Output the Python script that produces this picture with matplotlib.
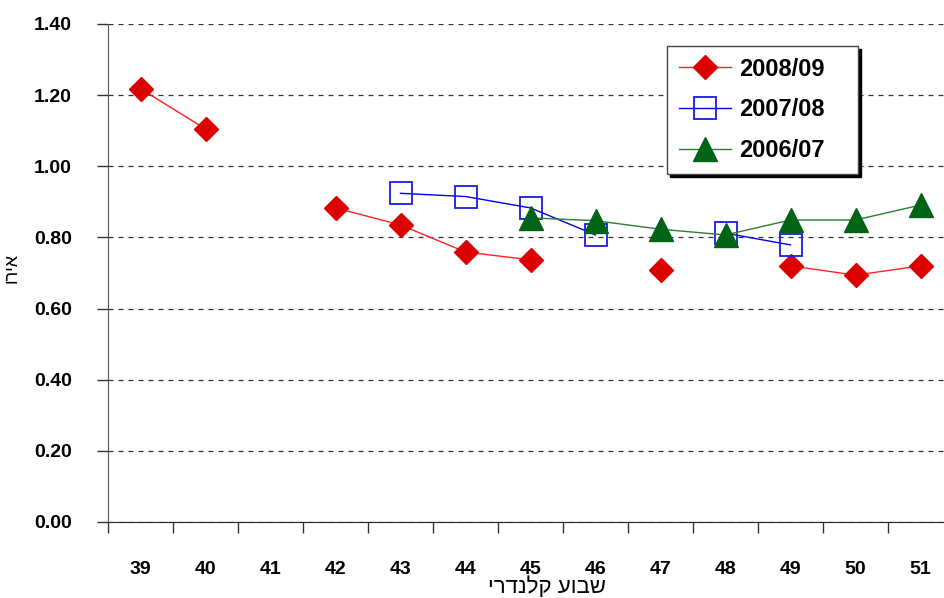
import numpy as np
import matplotlib
matplotlib.use("Agg")
import matplotlib.pyplot as plt

plt.rcParams["font.family"] = ["Liberation Sans", "DejaVu Sans"]

weeks = ["39", "40", "41", "42", "43", "44", "45", "46", "47", "48", "49", "50", "51"]
nan = np.nan
season_0809 = [1.218, 1.105, nan, 0.883, 0.835, 0.759, 0.737, nan, 0.708, nan, 0.72, 0.694, 0.72]
season_0708 = [nan, nan, nan, nan, 0.924, 0.915, 0.883, 0.807, nan, 0.812, 0.779, nan, nan]
season_0607 = [nan, nan, nan, nan, nan, nan, 0.855, 0.847, 0.823, 0.807, 0.849, 0.849, 0.891]
y_ticks = [0.0, 0.2, 0.4, 0.6, 0.8, 1.0, 1.2, 1.4]

x_title = "שבוע קלנדרי"
y_title = "אירו"

fig = plt.figure(figsize=(9.44, 5.98), dpi=100)
ax = fig.add_axes([108 / 944, 1 - 522 / 598, 845 / 944, 498 / 598])

x = np.arange(len(weeks))

ax.plot(x, season_0809, color="#ff2020", lw=1, marker="D", ms=12.5,
        mfc="#dd0000", mec="#dd0000", label="2008/09", zorder=3)
ax.plot(x, season_0708, color="#0000ee", lw=1, marker="s", ms=16,
        mfc="none", mec="#1a1ae6", mew=1.3, label="2007/08", zorder=3)
ax.plot(x, season_0607, color="#2e7d32", lw=1, marker="^", ms=17,
        mfc="#006414", mec="#006414", label="2006/07", zorder=3)

ax.set_xlim(-0.5, len(weeks) - 0.5)
ax.set_ylim(0, 1.4)

ax.set_xticks(np.arange(len(weeks) + 1) - 0.5)
ax.set_xticklabels([])
ax.set_xticks(x, minor=True)
ax.set_xticklabels(weeks, minor=True, fontsize=14, fontweight="bold")
ax.tick_params(axis="x", which="major", length=8, width=1, color="#333333", direction="out")
ax.tick_params(axis="x", which="minor", length=0, pad=28)

ax.set_yticks(y_ticks)
ax.set_yticklabels([f"{v:.2f}" for v in y_ticks], fontsize=14, fontweight="bold")
ax.tick_params(axis="y", length=8, width=1, color="#333333", pad=18)

ax.grid(axis="y", color="#333333", linestyle=(0, (4, 4)), linewidth=0.9)
ax.set_axisbelow(True)

for side in ["top", "right"]:
    ax.spines[side].set_visible(False)
ax.spines["left"].set_color("#555555")
ax.spines["bottom"].set_color("#222222")

ax.set_xlabel(x_title[::-1], fontsize=16)
ax.xaxis.set_label_coords(0.52, -0.109)
ax.set_ylabel(y_title[::-1], fontsize=13)
ax.yaxis.set_label_coords(-0.104, 0.51)

leg = ax.legend(loc="upper left", bbox_to_anchor=(0.6615, 0.5, 0.226, 0.456),
                mode="expand", fontsize=17, frameon=True, fancybox=False,
                shadow={"color": "black", "alpha": 1.0},
                handlelength=2.2, labelspacing=0.75, borderpad=0.5,
                handletextpad=0.35, borderaxespad=0)
leg.get_frame().set_edgecolor("#444444")
leg.get_frame().set_linewidth(1)
leg.get_frame().set_alpha(1)
for t in leg.get_texts():
    t.set_fontweight("bold")

fig.savefig("out.png", dpi=100)
